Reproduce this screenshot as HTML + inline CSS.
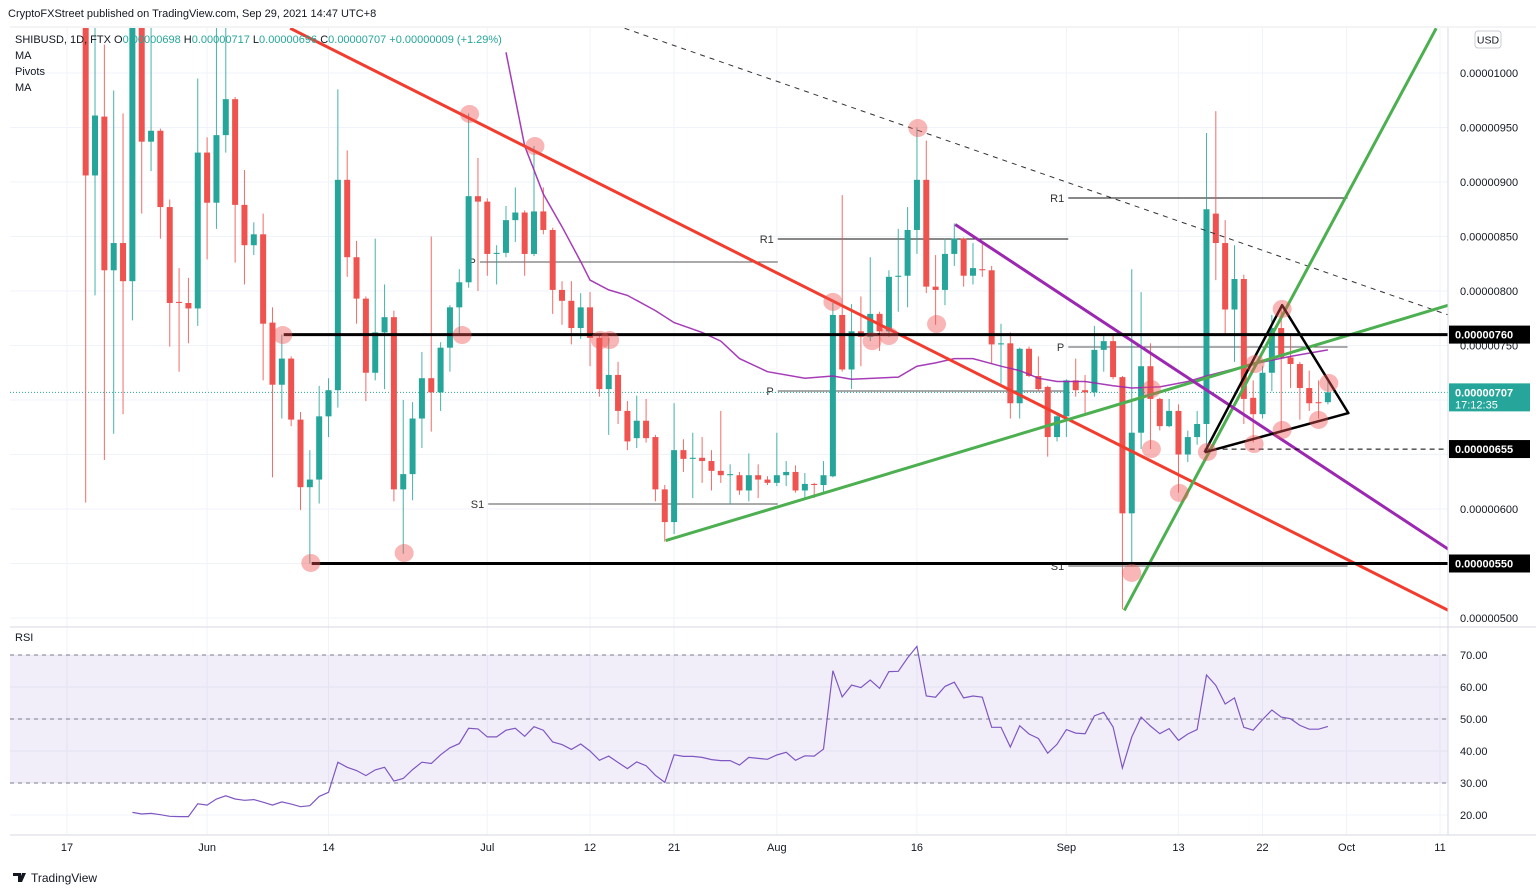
<!DOCTYPE html>
<html><head><meta charset="utf-8">
<style>
html,body{margin:0;padding:0;background:#fff;}
svg{display:block;font-family:"Liberation Sans",sans-serif;}
</style></head>
<body>
<svg id="chart" width="1536" height="894" viewBox="0 0 1536 894" xmlns="http://www.w3.org/2000/svg">
<defs>
<clipPath id="mainClip"><rect x="10" y="28" width="1438" height="596"/></clipPath>
<clipPath id="rsiClip"><rect x="10" y="630" width="1438" height="205"/></clipPath>
</defs>
<rect x="0" y="0" width="1536" height="894" fill="#ffffff"/>
<g id="grid"></g>
<rect x="10" y="655" width="1438" height="128" fill="rgba(126,87,194,0.1)"/>
<g id="main" clip-path="url(#mainClip)"></g>
<g id="rsi" clip-path="url(#rsiClip)"></g>
<line x1="10" y1="627" x2="1536" y2="627" stroke="#d6dae3" stroke-width="1"/>
<line x1="1448" y1="28" x2="1448" y2="835" stroke="#d6dae3" stroke-width="1"/>
<line x1="10" y1="835" x2="1536" y2="835" stroke="#d6dae3" stroke-width="1"/>
<line x1="10" y1="27" x2="1536" y2="27" stroke="#e6e8ee" stroke-width="1"/>
<g id="axes"></g>
<g font-size="11">
<text x="8" y="17" fill="#131722">CryptoFXStreet published on TradingView.com, Sep 29, 2021 14:47 UTC+8</text>
<text x="15" y="43" fill="#131722">SHIBUSD, 1D, FTX  O<tspan fill="#26a69a">0.00000698</tspan> H<tspan fill="#26a69a">0.00000717</tspan> L<tspan fill="#26a69a">0.00000696</tspan> C<tspan fill="#26a69a">0.00000707 +0.00000009 (+1.29%)</tspan></text>
<text x="15" y="59" fill="#131722">MA</text>
<text x="15" y="75" fill="#131722">Pivots</text>
<text x="15" y="91" fill="#131722">MA</text>
<text x="15" y="641" fill="#131722">RSI</text>
</g>
<g>
<rect x="1475" y="31" width="26" height="17" rx="3" fill="#fff" stroke="#c9ccd4"/>
<text x="1488" y="43.5" font-size="10.5" text-anchor="middle" fill="#131722">USD</text>
</g>
<g>
<path d="M13 873 h8 v9 h-3 v-6 h-5z M22 873 h4 l-4 9 h-3z" fill="#131722"/>
<text x="31" y="882" font-size="12" fill="#131722">TradingView</text>
</g>
</svg>
<script>
// ---------- data (prices in units of 1e-8 USD) ----------
const candleStartDay = 2; // May 19 (day 0 = May 17)
const opens  = [1100,906,960,819,844,809,1080,937,947,877,790,789,784,927,881,943,976,879,842,852,771,714,738,682,620,627,685,709,902,831,793,725,762,776,618,632,683,720,707,748,785,808,887,882,834,835,865,872,834,873,856,801,791,766,785,757,710,723,690,665,681,666,618,588,654,646,647,644,635,631,631,617,631,627,624,631,634,617,623,622,630,778,728,763,758,779,763,813,814,856,902,804,801,834,848,814,820,819,751,752,697,747,722,712,666,685,718,709,707,746,754,721,596,670,731,701,676,690,650,666,678,871,844,783,811,702,687,725,766,739,733,711,698,698];
const highs  = [1150,1100,1026,984,963,1120,1120,1045,949,884,821,812,995,941,1045,1045,978,911,863,871,785,760,740,689,654,713,720,985,929,846,795,848,806,782,700,698,744,850,753,787,820,963,922,885,842,878,895,874,933,895,858,809,809,798,799,760,757,735,699,704,701,668,622,697,664,670,666,654,690,641,634,651,641,630,670,644,640,633,624,644,789,888,788,795,831,781,819,857,877,950,938,833,848,862,849,844,844,823,770,762,748,749,740,713,686,719,738,723,768,759,761,722,820,799,752,702,701,696,672,690,945,965,865,842,815,718,731,778,787,761,735,727,718,717];
const lows   = [606,796,645,669,687,773,871,910,848,749,726,752,768,829,857,927,826,806,833,718,629,683,676,599,550,605,666,693,813,770,699,718,710,607,559,608,656,671,690,726,760,803,800,814,806,831,845,814,832,852,779,769,751,756,731,703,668,678,654,656,661,607,570,577,634,610,624,617,624,604,613,607,610,622,621,621,615,610,610,615,629,726,710,731,754,745,758,781,785,834,798,769,787,823,804,806,813,733,715,683,683,721,708,648,662,666,703,688,703,726,719,508,548,655,655,672,675,615,643,659,652,810,760,735,678,661,683,708,672,711,682,690,683,696];
const closes = [906,961,819,844,809,1080,937,947,877,789,789,784,927,881,943,976,879,842,852,770,714,738,682,620,627,685,709,902,831,793,725,762,776,618,632,683,720,707,748,785,808,887,882,834,835,865,872,834,873,856,801,791,766,785,757,710,723,690,662,681,665,618,588,654,646,647,644,635,631,632,617,631,627,624,631,634,617,623,622,631,778,728,763,758,779,763,813,814,856,902,804,801,834,848,814,821,819,751,752,697,747,722,710,666,685,718,709,707,746,754,721,596,670,731,701,676,690,650,666,678,875,844,783,811,701,687,725,766,739,733,711,697,697,707];

const maDays   = [47,49,51,53,55,56,58,60,63,65,68,70,72,75,79,82,84,89,91,93,95,97,100,102,104,106,109,112,114,117,120,122,127,131,135];
const maValues = [1019,933,889,859,827,810,801,796,782,771,762,754,738,726,720,722,719,721,731,734,738,738,731,727,720,717,717,713,711,712,717,722,733,740,746];

const rsiStartDay = 7;
const rsiValues = [20.8,20.3,20.5,20.1,19.6,19.5,19.5,23.5,23.1,25.0,26.0,25.0,24.6,24.8,24.0,23.1,24.1,23.4,22.6,22.9,25.8,27.1,36.5,34.9,33.9,32.3,34.1,34.9,30.6,31.4,34.2,36.5,36.1,38.8,41.0,42.3,47.1,46.9,44.4,44.4,46.5,47.1,44.6,47.6,46.5,42.8,42.0,40.5,42.2,40.0,37.1,38.4,36.4,34.5,36.6,35.4,32.4,30.2,38.8,38.3,38.3,38.0,37.3,37.0,
37.0,35.6,38.0,37.7,37.4,38.75,39.6,37.1,38.5,38.4,40.6,65.1,56.9,60.6,59.8,62.2,59.6,64.8,64.9,69.1,72.7,57.2,56.8,60.2,61.5,56.6,57.2,56.8,47.4,47.4,41.25,47.9,45.3,43.9,39.3,42.1,46.7,45.6,45.4,51.0,52.1,47.5,34.7,44.4,50.6,47.8,45.4,47.0,43.3,45.3,46.7,63.75,60.5,54.7,56.6,47.4,46.5,49.8,52.8,50.6,50.1,48.0,46.8,46.8,47.7];

const priceTicks = [1000,950,900,850,800,750,600,500];
const priceTickLabels = ["0.00001000","0.00000950","0.00000900","0.00000850","0.00000800","0.00000750","0.00000600","0.00000500"];
const gridPrices = [1000,950,900,850,800,750,700,650,600,550,500];
const dateTickDays = [0,15,28,45,56,65,76,91,107,119,128,137,147];
const dateTickLabels = ["17","Jun","14","Jul","12","21","Aug","16","Sep","13","22","Oct","11"];
const rsiTicks = [70,60,50,40,30,20];
const rsiTickLabels = ["70.00","60.00","50.00","40.00","30.00","20.00"];

// annotations in (day, price) space
const trendLines = [
  {name:"red-downtrend-line", pts:[[23.9,1041],[147.9,507]], color:"#f23c2e", w:3, dash:null},
  {name:"dashed-resistance-line", pts:[[59.7,1041],[147.9,778]], color:"#333", w:1, dash:"5,5"},
  {name:"green-support-line", pts:[[64.1,571],[147.9,787]], color:"#4caf50", w:3, dash:null},
  {name:"green-steep-line", pts:[[113.2,507],[146.6,1041]], color:"#4caf50", w:3, dash:null},
  {name:"purple-downtrend-line", pts:[[95.1,861],[147.9,563]], color:"#9c27b0", w:3, dash:null},
  {name:"support-760-line", pts:[[23.2,760],[160,760]], color:"#000", w:3, dash:null},
  {name:"support-550-line", pts:[[26.2,550],[160,550]], color:"#000", w:3, dash:null},
  {name:"support-655-dashed-line", pts:[[121.8,655],[160,655]], color:"#000", w:1, dash:"5,4"},
  {name:"triangle-pattern", pts:[[121.8,652],[130.1,787],[137.2,688],[121.8,652]], color:"#000", w:2.5, dash:null}
];
const pivotLabels = ["P","S1","R1","P","R1","P","S1"];
const pivotPrices = [826.6,604.6,847.7,708.3,885.3,748.6,547.7];
const pivotStartDays = [44.2,45.1,76.1,76.1,107.2,107.2,107.2];
const pivotEndDays = [76.1,76.1,107.2,107.2,137.1,137.1,137.1];
const touchDays   = [23.1,26.1,36.1,42.3,43.1,50.1,57.1,58.1,82.0,86.2,88.0,91.1,93.1,114.0,116.1,116.1,119.1,122.1,127.2,127.1,130.1,130.1,134.0,135.1];
const touchPrices = [759.6,550.5,559.6,759.6,962.4,933,755,755,790,754,758.7,949.5,769.7,541.3,710,655,614.7,652.3,733,659.6,783.5,672.5,681.7,715.6];
const currentPrice = 707;

// ---------- scales ----------
function xD(d){ return 67 + d*9.34; }
function yP(p){ return 73 + (1000-p)*1.09; }
function yR(v){ return 655 + (70-v)*3.2; }

const NS = "http://www.w3.org/2000/svg";
function mk(tag, attrs, parent){
  const el = document.createElementNS(NS, tag);
  for (const k in attrs) el.setAttribute(k, attrs[k]);
  parent.appendChild(el);
  return el;
}
const grid = document.getElementById('grid');
const main = document.getElementById('main');
const rsi = document.getElementById('rsi');
const axes = document.getElementById('axes');

// grid
gridPrices.forEach(p=>{
  const l = mk('line',{x1:10,x2:1448,y1:yP(p),y2:yP(p),stroke:'#f0f3fa','stroke-width':1},grid);
  
  
});
rsiTicks.forEach(v=>{
  const l = mk('line',{x1:10,x2:1448,y1:yR(v),y2:yR(v),stroke:'#f0f3fa','stroke-width':1},grid);
  
  
});
dateTickDays.forEach(d=>{
  const l = mk('line',{x1:xD(d),x2:xD(d),y1:28,y2:835,stroke:'#f0f3fa','stroke-width':1},grid);
  
  
});

// current price line
const cpl = mk('line',{x1:10,x2:1448,y1:yP(currentPrice),y2:yP(currentPrice),stroke:'#26a69a','stroke-width':1,'stroke-dasharray':'1,2'},main);



// pivots
pivotPrices.forEach((p,i)=>{
  const col = pivotLabels[i]==='R1' ? '#111' : '#555';
  const l = mk('line',{x1:xD(pivotStartDays[i]),x2:xD(pivotEndDays[i]),y1:yP(p),y2:yP(p),stroke:col,'stroke-width':1},main);
  
  
  const t = mk('text',{x:xD(pivotStartDays[i])-4,y:yP(p)+4,'font-size':11,'text-anchor':'end',fill:'#333'},main);
  t.textContent = pivotLabels[i];
  
  
});

// candles
opens.forEach((o,i)=>{
  const d = candleStartDay + i;
  const x = xD(d);
  const c = closes[i], h = highs[i], lo = lows[i];
  const up = c >= o;
  const col = up ? '#26a69a' : '#ef5350';
  const g = mk('g',{},main);
  
  
  mk('line',{x1:x,x2:x,y1:yP(h),y2:yP(lo),stroke:col,'stroke-width':1,opacity:0.85},g);
  const top = yP(Math.max(o,c)), bot = yP(Math.min(o,c));
  mk('rect',{x:x-3,y:top,width:6,height:Math.max(1,bot-top),fill:col},g);
});

// MA
let maD = maDays.map((d,i)=>(i?'L':'M')+xD(d).toFixed(1)+' '+yP(maValues[i]).toFixed(1)).join(' ');
const ma = mk('path',{d:maD,fill:'none',stroke:'#9c27b0','stroke-width':1.5,opacity:0.9},main);



// trend lines
trendLines.forEach(t=>{
  const dd = t.pts.map((p,i)=>(i?'L':'M')+xD(p[0]).toFixed(1)+' '+yP(p[1]).toFixed(1)).join(' ');
  const a = {d:dd,fill:'none',stroke:t.color,'stroke-width':t.w,'stroke-linejoin':'round'};
  if (t.dash) a['stroke-dasharray']=t.dash;
  const el = mk('path',a,main);
  
  
});

// touch circles
touchDays.forEach((d,i)=>{
  const c = mk('ellipse',{cx:xD(d),cy:yP(touchPrices[i]),rx:9.5,ry:9,fill:'rgba(239,83,80,0.42)'},main);
  
  
});

// RSI
[70,50,30].forEach(v=>{
  const l = mk('line',{x1:10,x2:1448,y1:yR(v),y2:yR(v),stroke:'#787b86','stroke-width':1,'stroke-dasharray':'4,4'},rsi);
  
  
});
const rd = rsiValues.map((v,i)=>(i?'L':'M')+xD(rsiStartDay+i).toFixed(1)+' '+yR(v).toFixed(1)).join(' ');
const rl = mk('path',{d:rd,fill:'none',stroke:'#7e57c2','stroke-width':1.2},rsi);



// axes labels
priceTicks.forEach((p,i)=>{
  const t = mk('text',{x:1460,y:yP(p)+4,'font-size':11,fill:'#131722'},axes);
  t.textContent = priceTickLabels[i];
  
  
});
rsiTicks.forEach((v,i)=>{
  const t = mk('text',{x:1460,y:yR(v)+4,'font-size':11,fill:'#131722'},axes);
  t.textContent = rsiTickLabels[i];
  
  
});
dateTickDays.forEach((d,i)=>{
  const t = mk('text',{x:xD(d),y:851,'font-size':11,'text-anchor':'middle',fill:'#131722'},axes);
  t.textContent = dateTickLabels[i];
  
  
});
function box(price, bg, label, name, sub){
  const y = yP(price);
  const h = sub ? 28 : 18;
  const g = mk('g',{},axes);
  
  
  mk('rect',{x:1449,y:y-9,width:81,height:h,fill:bg},g);
  const t = mk('text',{x:1455,y:y+4,'font-size':11,'font-weight':'bold',fill:'#fff'},g);
  t.textContent = label;
  if (sub){
    const t2 = mk('text',{x:1455,y:y+16,'font-size':11,fill:'#fff'},g);
    t2.textContent = sub;
  }
}
box(760,'#000','0.00000760','level-760-label');
box(currentPrice,'#26a69a','0.00000707','current-price-label','17:12:35');
box(655,'#000','0.00000655','level-655-label');
box(550,'#000','0.00000550','level-550-label');
</script>
</body></html>
